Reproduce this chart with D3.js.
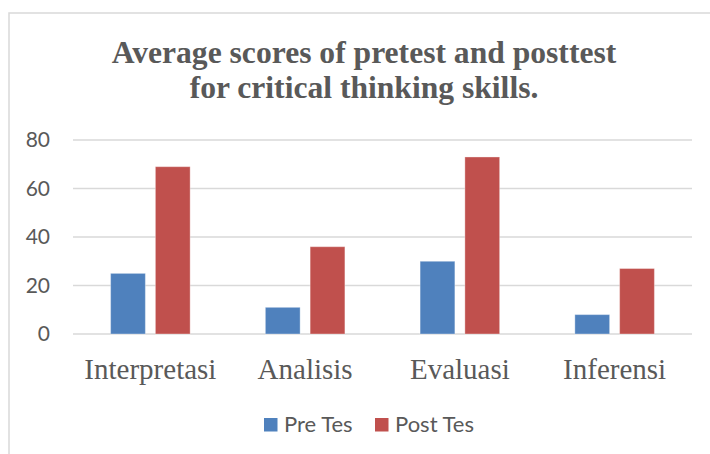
<!DOCTYPE html>
<html>
<head>
<meta charset="utf-8">
<script src="https://cdn.jsdelivr.net/npm/d3@7"></script>
<style>
  html, body { margin: 0; padding: 0; background: #fff; }
  svg { display: block; }
</style>
</head>
<body>
<svg id="chart" width="710" height="454"></svg>
<script>
// chart data
var categories = ['Interpretasi', 'Analisis', 'Evaluasi', 'Inferensi'];
var seriesNames = ['Pre Tes', 'Post Tes'];
var preTes = [25, 11, 30, 8];
var postTes = [69, 36, 73, 27];
var yTicks = [0, 20, 40, 60, 80];
var titleLines = ['Average scores of pretest and posttest', 'for critical thinking skills.'];
var colors = ['#4f81bd', '#c0504d'];

var svg = d3.select('#chart');
var textColor = '#595959';
var gridColor = '#d9d9d9';

// outer chart border (cropped at right and bottom)
svg.append('path')
  .attr('d', 'M9,460 L9,13 L720,13')
  .attr('fill', 'none')
  .attr('stroke', gridColor)
  .attr('stroke-width', 1.5);

// title
svg.append('text')
  .attr('x', 364)
  .attr('y', 63)
  .attr('text-anchor', 'middle')
  .style('font-family', '"Liberation Serif", "Times New Roman", serif')
  .style('font-weight', 'bold')
  .style('font-size', '31.6px')
  .attr('fill', textColor)
  .selectAll('tspan')
  .data(titleLines)
  .enter()
  .append('tspan')
  .attr('x', 364)
  .attr('dy', function(d, i) { return i === 0 ? 0 : 35; })
  .text(function(d) { return d; });

// scales
var x0 = d3.scaleBand()
  .domain(categories)
  .range([73, 692])
  .paddingInner(0.486)
  .paddingOuter(0.243);

var x1 = d3.scaleBand()
  .domain(seriesNames)
  .range([0, x0.bandwidth()])
  .paddingInner(0.2235)
  .paddingOuter(0);

var y = d3.scaleLinear()
  .domain([0, 80])
  .range([334, 140]);

// gridlines
svg.append('g')
  .selectAll('line')
  .data(yTicks)
  .enter()
  .append('line')
  .attr('x1', 73)
  .attr('x2', 692)
  .attr('y1', function(d) { return y(d); })
  .attr('y2', function(d) { return y(d); })
  .attr('stroke', gridColor)
  .attr('stroke-width', 1.5);

// y axis labels
var yAxis = d3.axisLeft(y).tickValues(yTicks).tickSize(0).tickPadding(0);
var gy = svg.append('g')
  .attr('transform', 'translate(50,0)')
  .call(yAxis);
gy.select('.domain').remove();
gy.selectAll('text')
  .style('font-family', 'Lato, "Open Sans", sans-serif')
  .style('font-size', '21px')
  .attr('fill', textColor);

// bars
var rows = categories.map(function(c, i) {
  return {cat: c, vals: [preTes[i], postTes[i]]};
});

var groups = svg.append('g')
  .selectAll('g')
  .data(rows)
  .enter()
  .append('g')
  .attr('transform', function(d) { return 'translate(' + x0(d.cat) + ',0)'; });

groups.selectAll('rect')
  .data(function(d) {
    return d.vals.map(function(v, j) { return {name: seriesNames[j], v: v, j: j}; });
  })
  .enter()
  .append('rect')
  .attr('x', function(d) { return x1(d.name); })
  .attr('y', function(d) { return y(d.v); })
  .attr('width', x1.bandwidth())
  .attr('height', function(d) { return y(0) - y(d.v); })
  .attr('fill', function(d) { return colors[d.j]; })
  .attr('stroke', 'rgba(255,255,255,0.35)')
  .attr('stroke-width', 1);

// category labels
var xAxis = d3.axisBottom(x0).tickSize(0).tickPadding(0);
var gx = svg.append('g')
  .attr('transform', 'translate(0,358)')
  .call(xAxis);
gx.select('.domain').remove();
gx.selectAll('text')
  .attr('dy', 0)
  .attr('y', 21)
  .style('font-family', '"Liberation Serif", "Times New Roman", serif')
  .style('font-size', '29px')
  .attr('fill', textColor);

// legend
var legendX = [264, 375];
var legend = svg.append('g')
  .selectAll('g')
  .data(seriesNames)
  .enter()
  .append('g')
  .attr('transform', function(d, i) { return 'translate(' + legendX[i] + ',418)'; });

legend.append('rect')
  .attr('width', 13.5)
  .attr('height', 13.5)
  .attr('fill', function(d, i) { return colors[i]; });

legend.append('text')
  .attr('x', 20)
  .attr('y', 13.8)
  .style('font-family', 'Lato, "Open Sans", sans-serif')
  .style('font-size', '22px')
  .attr('fill', textColor)
  .text(function(d) { return d; });
</script>
</body>
</html>
